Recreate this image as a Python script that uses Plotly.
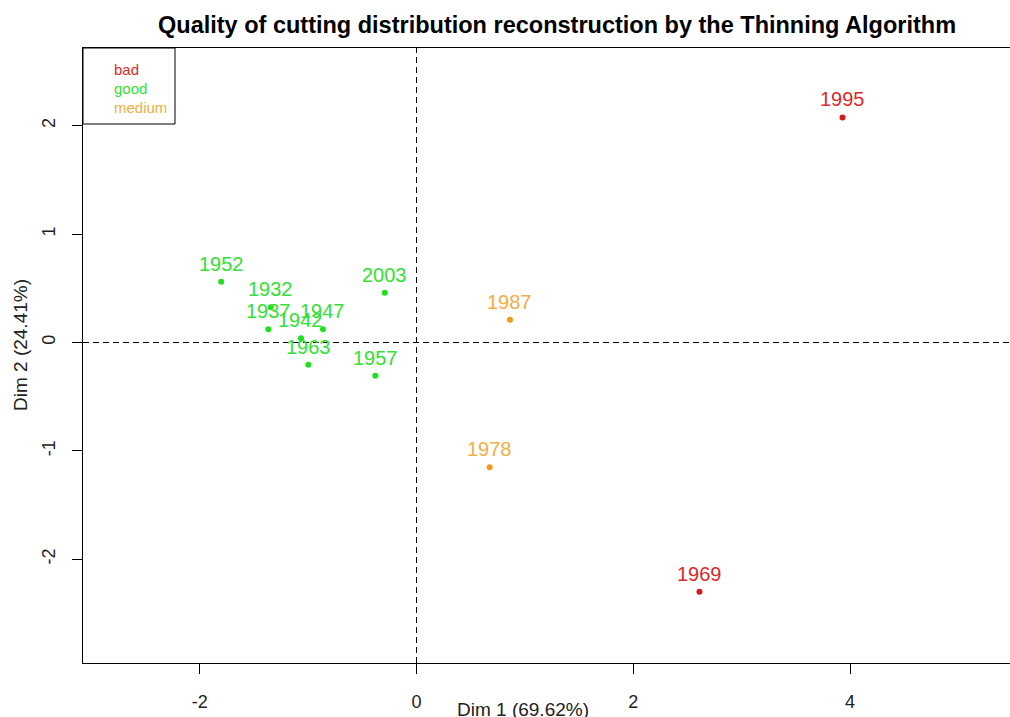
import plotly.graph_objects as go

# ── Data ──────────────────────────────────────────────────────────────────────
YEARS   = ["1995", "1969", "1987", "1978", "1952", "2003", "1932", "1937",
           "1947", "1942", "1963", "1957"]
DIM1    = [3.93, 2.61, 0.862, 0.675, -1.802, -0.293, -1.345, -1.367,
           -0.863, -1.066, -0.998, -0.380]
DIM2    = [2.076, -2.30, 0.209, -1.150, 0.560, 0.458, 0.326, 0.123,
           0.123, 0.040, -0.206, -0.307]
QUALITY = ["bad", "bad", "medium", "medium", "good", "good", "good", "good",
           "good", "good", "good", "good"]

X_TICKS = [-2, 0, 2, 4]
X_TICKTEXT = ["-2", "0", "2", "4"]
Y_TICKS = [-2, -1, 0, 1, 2]
Y_TICKTEXT = ["-2", "-1", "0", "1", "2"]

TITLE   = "Quality of cutting distribution reconstruction by the Thinning Algorithm"
X_TITLE = "Dim 1 (69.62%)"
Y_TITLE = "Dim 2 (24.41%)"

# ── Colours ───────────────────────────────────────────────────────────────────
DOT_COL  = {"bad": "#D61A1A", "good": "#1EE01E", "medium": "#F29A1E"}
TEXT_COL = {"bad": "#D82A2A", "good": "#33E033", "medium": "#F0AE48"}
FONT = "Liberation Sans, Arial, sans-serif"

# figure size / margins (body margin removed via post_script)
W, H = 1010, 717
L, R, T, B = 83, 0, 48, 54
pw, ph = W - L - R, H - T - B

fig = go.Figure()

for q in ["bad", "good", "medium"]:
    idx = [i for i, v in enumerate(QUALITY) if v == q]
    fig.add_trace(go.Scatter(
        x=[DIM1[i] for i in idx], y=[DIM2[i] for i in idx],
        mode="markers", name=q, showlegend=False,
        marker=dict(color=DOT_COL[q], size=6, line=dict(width=0)),
        hovertemplate="%{x}, %{y}<extra>" + q + "</extra>",
    ))

# point labels
for yr, x, y, q in zip(YEARS, DIM1, DIM2, QUALITY):
    fig.add_annotation(
        x=x, y=y, xref="x", yref="y", text=yr, showarrow=False,
        yshift=18, font=dict(family=FONT, size=20, color=TEXT_COL[q]),
    )

# legend box (top-left), drawn by hand like R's legend()
for i, q in enumerate(["bad", "good", "medium"]):
    fig.add_annotation(
        x=29 / pw, y=1 - (21 + 19 * i) / ph, xref="x domain", yref="y domain",
        text=q, showarrow=False, xanchor="left", yanchor="middle",
        font=dict(family=FONT, size=15, color=TEXT_COL[q]),
    )
fig.add_shape(type="rect", xref="x domain", yref="y domain",
              x0=0, x1=92 / pw, y0=1 - 76 / ph, y1=1,
              line=dict(color="black", width=1))

fig.add_hline(y=0, line=dict(color="black", width=1, dash="6px,4px"))
fig.add_vline(x=0, line=dict(color="black", width=1, dash="6px,4px"))

fig.add_annotation(text="<b>" + TITLE + "</b>", xref="paper", yref="paper",
                   x=(556.5 - L) / pw, y=1 + (T - 25) / ph,
                   xanchor="center", yanchor="middle", showarrow=False,
                   font=dict(family=FONT, size=23.5, color="black"))
fig.add_annotation(text=X_TITLE, xref="paper", yref="paper",
                   x=(523 - L) / pw, y=-(709 - T - ph) / ph,
                   xanchor="center", yanchor="middle", showarrow=False,
                   font=dict(family=FONT, size=19, color="#222"))
fig.add_annotation(text=Y_TITLE, xref="paper", yref="paper", textangle=-90,
                   x=-(L - 20) / pw, y=1 - (345 - T) / ph,
                   xanchor="center", yanchor="middle", showarrow=False,
                   font=dict(family=FONT, size=19, color="#222"))

fig.update_layout(
    width=W, height=H,
    margin=dict(l=L, r=R, t=T, b=B, pad=0, autoexpand=False),
    paper_bgcolor="white", plot_bgcolor="white",
    font=dict(family=FONT, size=18, color="#222"),
    showlegend=False,
    xaxis=dict(range=[-3.077, 5.475], tickvals=X_TICKS, ticktext=X_TICKTEXT,
               showgrid=False, zeroline=False, showline=True,
               linecolor="black", linewidth=1, mirror=True,
               ticks="outside", ticklen=10, tickcolor="black",
               ticklabelstandoff=12, automargin=False),
    yaxis=dict(range=[-2.9566, 2.7168], tickvals=Y_TICKS, ticktext=Y_TICKTEXT,
               showgrid=False, zeroline=False, showline=True,
               linecolor="black", linewidth=1, mirror=False,
               ticks="outside", ticklen=10, tickcolor="black",
               tickangle=-90, ticklabelstandoff=10, automargin=False),
)

fig.write_html("out.html", config={"displayModeBar": False},
               post_script="document.body.style.margin='0';")
